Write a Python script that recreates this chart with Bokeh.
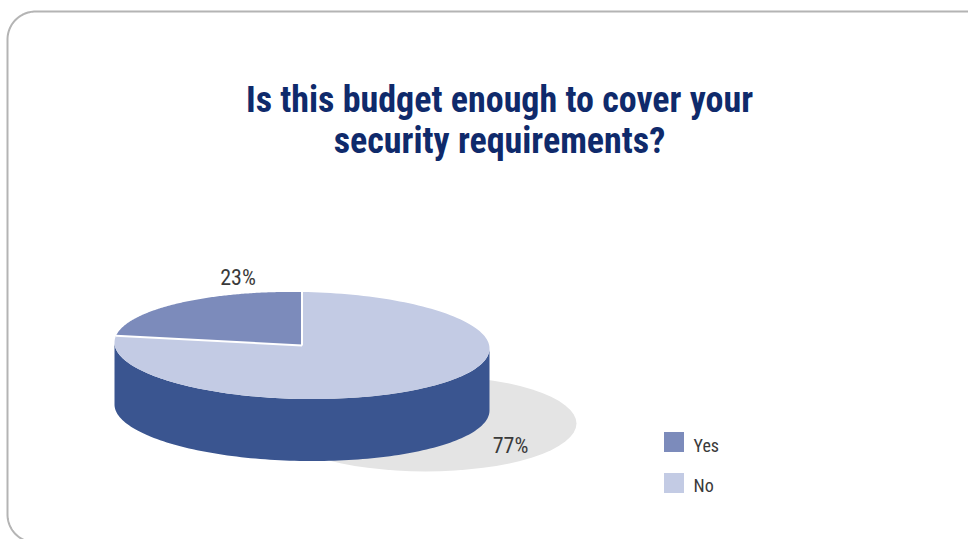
import numpy as np
from bokeh.plotting import figure
from bokeh.embed import file_html
from bokeh.resources import INLINE
from bokeh.models import Range1d
from bokeh.core.properties import value

# Survey answers
categories = ["Yes", "No"]
shares = [23, 77]
share_labels = ["23%", "77%"]
title_lines = ["Is this budget enough to cover your", "security requirements?"]

COLOR_YES = "#7C8BBB"
COLOR_NO = "#C3CBE4"
COLOR_WALL = "#3A5590"
COLOR_SHADOW = "#E4E4E4"
COLOR_TEXT = "#3A3A3A"
COLOR_TITLE = "#0F2A6B"
COLOR_FRAME = "#B4B4B4"
FONT = value("Roboto Condensed")

W, H = 968, 539
CX, CY, RX, RY = 301.5, 345.0, 187.5, 53.5
DEPTH = 62.0
TILT = 0.016  # the disc leans slightly, right side lower

p = figure(width=W, height=H, output_backend="svg", toolbar_location=None,
           x_range=Range1d(0, W), y_range=Range1d(H, 0), min_border=0)
p.axis.visible = False
p.grid.visible = False
p.outline_line_color = None
p.background_fill_color = "white"
p.border_fill_color = "white"


def rim(angles, drop=0.0):
    x = CX + RX * np.cos(angles)
    y = CY - RY * np.sin(angles) + (x - CX) * TILT + drop
    return x, y


def frame_outline(left, top, radius, bottom_center):
    # Rounded panel edge that runs off the right and bottom of the page
    t = np.linspace(0, np.pi / 2, 30)
    top_x = left + radius - radius * np.cos(t)
    top_y = top + radius - radius * np.sin(t)
    low_x = left + radius - radius * np.cos(t)
    low_y = bottom_center + radius * np.sin(t)
    xs = list(low_x[::-1]) + list(top_x) + [W + 40]
    ys = list(low_y[::-1]) + list(top_y) + [top]
    return xs, ys


fx, fy = frame_outline(7, 11, 28, 514)
p.line(fx, fy, line_color=COLOR_FRAME, line_width=2)

# Cast shadow
p.ellipse(x=[425], y=[423], width=[302], height=[96], fill_color=COLOR_SHADOW, line_color=None)

# Side wall: lower half of the rim swept down by the depth
t = np.linspace(np.pi, 2 * np.pi, 120)
top_x, top_y = rim(t)
low_x, low_y = rim(t, DEPTH)
p.patch(np.concatenate([low_x, top_x[::-1]]), np.concatenate([low_y, top_y[::-1]]),
        fill_color=COLOR_WALL, line_color=None)

# Top face: slices run counter-clockwise from twelve o'clock
start = np.pi / 2
for share, col in zip(shares, [COLOR_YES, COLOR_NO]):
    end = start + 2 * np.pi * share / sum(shares)
    xs, ys = rim(np.linspace(start, end, 160))
    p.patch([CX] + list(xs), [CY] + list(ys), fill_color=col, line_color=None)
    start = end

# White separators between slices
bounds = np.pi / 2 + 2 * np.pi * np.cumsum([0] + shares[:-1]) / sum(shares)
for a in bounds:
    ex, ey = rim(np.array([a]))
    p.line([CX, ex[0]], [CY, ey[0]], line_color="white", line_width=2)

# Title
p.text(x=[499, 499], y=[99, 140], text=title_lines, text_align="center", text_baseline="middle",
       text_font=FONT, text_font_style="bold", text_font_size="36px", text_color=COLOR_TITLE)

# Share labels
p.text(x=[237.5, 510], y=[277, 445], text=share_labels, text_align="center", text_baseline="middle",
       text_font=FONT, text_font_size="22px", text_color=COLOR_TEXT)

# Legend
p.rect(x=[673.5, 673.5], y=[441.5, 482.5], width=[20, 20], height=[20, 20],
       fill_color=[COLOR_YES, COLOR_NO], line_color=None)
p.text(x=[693, 693], y=[445, 485], text=categories, text_align="left", text_baseline="middle",
       text_font=FONT, text_font_size="18px", text_color=COLOR_TEXT)

open("out.html", "w").write(file_html(p, INLINE))
